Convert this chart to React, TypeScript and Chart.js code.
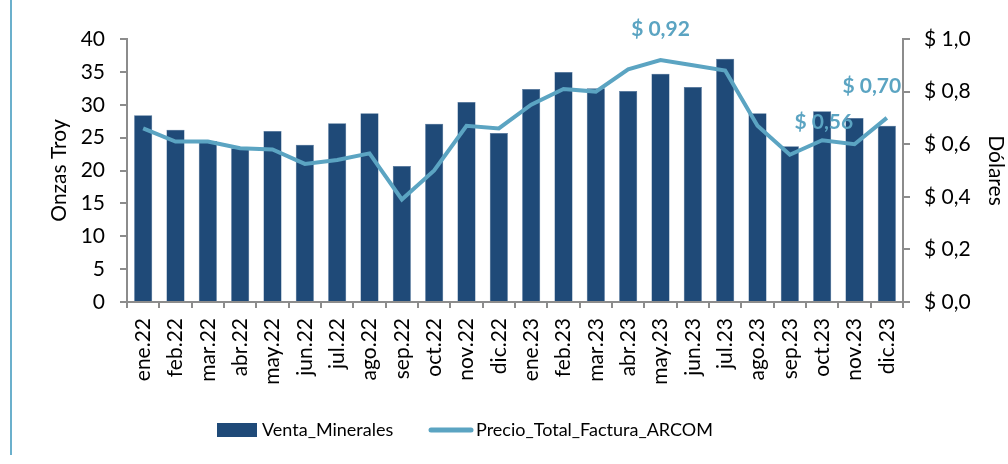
import React, { useEffect, useRef } from "react";
import { Chart, registerables } from "chart.js";

Chart.register(...registerables);

const categories = [
  "ene.22", "feb.22", "mar.22", "abr.22", "may.22", "jun.22", "jul.22", "ago.22",
  "sep.22", "oct.22", "nov.22", "dic.22", "ene.23", "feb.23", "mar.23", "abr.23",
  "may.23", "jun.23", "jul.23", "ago.23", "sep.23", "oct.23", "nov.23", "dic.23",
];
const ventaMinerales = [
  28.4, 26.2, 24.5, 23.4, 26.0, 23.9, 27.2, 28.7, 20.7, 27.1, 30.4, 25.7,
  32.4, 35.0, 32.5, 32.1, 34.7, 32.7, 37.0, 28.7, 23.7, 29.0, 28.0, 26.8,
];
const precioFactura = [
  0.66, 0.61, 0.61, 0.585, 0.58, 0.525, 0.54, 0.565, 0.39, 0.5, 0.67, 0.66,
  0.75, 0.81, 0.8, 0.885, 0.92, 0.9, 0.88, 0.67, 0.56, 0.615, 0.6, 0.7,
];
const labeledPoints = [16, 20, 23];
const leftAxisTitle = "Onzas Troy";
const rightAxisTitle = "Dólares";
const seriesNames = ["Venta_Minerales", "Precio_Total_Factura_ARCOM"];

const BAR_COLOR = "#1F4A78";
const LINE_COLOR = "#5BA4C2";
const AXIS_COLOR = "#8C8C8C";
const FONT = "Lato, 'Open Sans', sans-serif";

const fmtMoney = (v: number, d: number) => "$ " + v.toFixed(d).replace(".", ",");

export default function App() {
  const ref = useRef<HTMLCanvasElement | null>(null);

  useEffect(() => {
    if (!ref.current) return;
    const labelOffsets: Record<number, [number, number]> = {
      16: [0, -31],
      20: [34, -32],
      23: [-15, -32],
    };
    const labelsPlugin = {
      id: "customLabels",
      afterDraw(chart: any) {
        const ctx = chart.ctx;
        const meta = chart.getDatasetMeta(1);
        ctx.save();
        ctx.font = `bold 21px ${FONT}`;
        ctx.fillStyle = LINE_COLOR;
        ctx.textAlign = "center";
        ctx.textBaseline = "middle";
        labeledPoints.forEach((i) => {
          const p = meta.data[i];
          const off = labelOffsets[i] || [0, -30];
          ctx.fillText(fmtMoney(precioFactura[i], 2), p.x + off[0], p.y + off[1]);
        });
        // legend
        const ly = 430;
        ctx.fillStyle = BAR_COLOR;
        ctx.fillRect(217, ly - 7, 40, 14);
        ctx.fillStyle = "#000";
        ctx.font = `18px ${FONT}`;
        ctx.textAlign = "left";
        ctx.fillText(seriesNames[0], 262, ly);
        ctx.strokeStyle = LINE_COLOR;
        ctx.lineWidth = 5;
        ctx.lineCap = "round";
        ctx.beginPath();
        ctx.moveTo(431, ly);
        ctx.lineTo(471, ly);
        ctx.stroke();
        ctx.fillText(seriesNames[1], 476, ly);
        ctx.restore();
      },
    };

    const tickFont = { family: FONT, size: 21 };
    const chart = new Chart(ref.current, {
      type: "bar",
      data: {
        labels: categories,
        datasets: [
          {
            type: "bar",
            label: seriesNames[0],
            data: ventaMinerales,
            backgroundColor: BAR_COLOR,
            borderColor: "#3A6390",
            borderWidth: 0.5,
            barPercentage: 0.56,
            categoryPercentage: 1,
            yAxisID: "y",
            order: 2,
          },
          {
            type: "line",
            label: seriesNames[1],
            data: precioFactura,
            borderColor: LINE_COLOR,
            borderWidth: 4,
            pointRadius: 0,
            tension: 0,
            fill: false,
            yAxisID: "y1",
            order: 1,
          } as any,
        ],
      },
      options: {
        animation: false,
        responsive: false,
        maintainAspectRatio: false,
        layout: { padding: { left: 47, right: 0, top: 39, bottom: 0 } },
        plugins: {
          legend: { display: false },
          tooltip: { enabled: false },
          title: { display: false },
        },
        scales: {
          x: {
            grid: {
              display: true,
              drawOnChartArea: false,
              offset: true,
              color: AXIS_COLOR,
              lineWidth: 2,
              tickLength: 6,
            },
            border: { display: true, color: AXIS_COLOR, width: 2 },
            ticks: {
              autoSkip: false,
              minRotation: 90,
              maxRotation: 90,
              padding: 10,
              color: "#000",
              font: tickFont,
            },
            afterFit(scale: any) {
              scale.height = 162;
            },
          },
          y: {
            position: "left",
            min: 0,
            max: 40,
            grid: {
              display: true,
              drawOnChartArea: false,
              color: AXIS_COLOR,
              lineWidth: 2,
              tickLength: 7,
            },
            border: { display: true, color: AXIS_COLOR, width: 2 },
            ticks: { stepSize: 5, padding: 15, color: "#000", font: tickFont },
            title: {
              display: true,
              text: leftAxisTitle,
              color: "#000",
              font: { family: FONT, size: 21 },
              padding: 0,
            },
            afterFit(scale: any) {
              scale.width = 80;
            },
          },
          y1: {
            position: "right",
            min: 0,
            max: 1,
            grid: {
              display: true,
              drawOnChartArea: false,
              color: AXIS_COLOR,
              lineWidth: 2,
              tickLength: 7,
            },
            border: { display: true, color: AXIS_COLOR, width: 2 },
            ticks: {
              stepSize: 0.2,
              padding: 14,
              color: "#000",
              font: tickFont,
              callback: (v: any) => fmtMoney(Number(v), 1),
            },
            title: {
              display: true,
              text: rightAxisTitle,
              color: "#000",
              font: { family: FONT, size: 21 },
              padding: 0,
            },
            afterFit(scale: any) {
              scale.width = 105;
            },
          },
        },
      },
      plugins: [labelsPlugin],
    });
    return () => chart.destroy();
  }, []);

  return (
    <div style={{ position: "fixed", left: 0, top: 0, width: 1008, height: 464, background: "#fff" }}>
      <div
        style={{
          position: "absolute",
          left: 10,
          top: 0,
          width: 2,
          height: 455,
          background: "#6BB0CC",
        }}
      />
      <canvas ref={ref} width={1008} height={464} style={{ position: "absolute", left: 0, top: 0 }} />
    </div>
  );
}
